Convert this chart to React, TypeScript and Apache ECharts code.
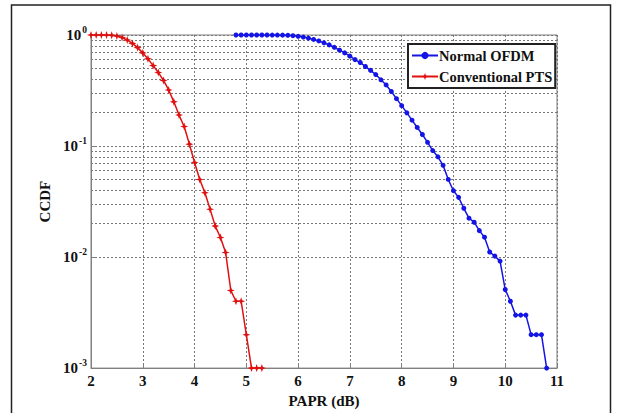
import React, { useEffect, useRef } from "react";
import * as echarts from "echarts";

const ofdmPapr = [
  4.8, 4.9, 5.0, 5.1, 5.2, 5.3, 5.4, 5.5, 5.6, 5.7,
  5.8, 5.9, 6.0, 6.1, 6.2, 6.3, 6.4, 6.5, 6.6, 6.7,
  6.8, 6.9, 7.0, 7.1, 7.2, 7.3, 7.4, 7.5, 7.6, 7.7,
  7.8, 7.9, 8.0, 8.1, 8.2, 8.3, 8.4, 8.5, 8.6, 8.7,
  8.8, 8.9, 9.0, 9.1, 9.2, 9.3, 9.4, 9.5, 9.6, 9.7,
  9.8, 9.9, 10.0, 10.1, 10.2, 10.3, 10.4, 10.5, 10.6, 10.7,
  10.8,
];
const ofdmCcdf = [
  1.0, 1.0, 1.0, 1.0, 1.0, 1.0, 1.0, 0.999, 0.998, 0.997,
  0.994, 0.986, 0.973, 0.958, 0.937, 0.912, 0.884, 0.85, 0.815, 0.775,
  0.73, 0.69, 0.645, 0.6, 0.565, 0.52, 0.48, 0.44, 0.395, 0.355,
  0.31, 0.267, 0.231, 0.199, 0.171, 0.147, 0.127, 0.108, 0.091, 0.08,
  0.067, 0.05, 0.0396, 0.0345, 0.0275, 0.0224, 0.0206, 0.0173, 0.0151, 0.0111,
  0.0102, 0.0092, 0.0051, 0.004, 0.003, 0.003, 0.003, 0.002, 0.002, 0.002,
  0.001,
];

const ptsPapr = [
  2.0, 2.1, 2.2, 2.3, 2.4, 2.5, 2.6, 2.7, 2.8, 2.9,
  3.0, 3.1, 3.2, 3.3, 3.4, 3.5, 3.6, 3.7, 3.8, 3.9,
  4.0, 4.1, 4.2, 4.3, 4.4, 4.5, 4.6, 4.7, 4.8, 4.9,
  5.0, 5.1, 5.2, 5.3,
];
const ptsCcdf = [
  1.0, 1.0, 1.0, 1.0, 0.995, 0.98, 0.95, 0.9, 0.84, 0.77,
  0.69, 0.61, 0.53, 0.46, 0.39, 0.32, 0.25, 0.19, 0.15, 0.104,
  0.071, 0.05, 0.038, 0.027, 0.019, 0.015, 0.011, 0.005, 0.004, 0.004,
  0.002, 0.001, 0.001, 0.001,
];

const minorGridValues = [
  0.002, 0.003, 0.004, 0.005, 0.006, 0.007, 0.008, 0.009,
  0.02, 0.03, 0.04, 0.05, 0.06, 0.07, 0.08, 0.09,
  0.2, 0.3, 0.4, 0.5, 0.6, 0.7, 0.8, 0.9,
];

const seriesNames = ["Normal OFDM", "Conventional PTS"];

const SERIF = "'Liberation Serif', 'Times New Roman', serif";
const GRID_COLOR = "#777";
const STAR =
  "path://M0,-5 L1.3,-1.3 L5,0 L1.3,1.3 L0,5 L-1.3,1.3 L-5,0 L-1.3,-1.3 Z";

export default function App() {
  const ref = useRef<HTMLDivElement>(null);

  useEffect(() => {
    if (!ref.current) return;
    const chart = echarts.init(ref.current, undefined, { renderer: "svg" });
    const gridLine = { show: true, lineStyle: { color: GRID_COLOR, type: [2, 2], width: 1 } };
    chart.setOption({
      animation: false,
      backgroundColor: "#fff",
      graphic: [
        {
          type: "rect",
          shape: { x: 11.5, y: 5, width: 599, height: 430 },
          style: { fill: "none", stroke: "#222", lineWidth: 1.5 },
          silent: true,
        },
      ],
      grid: {
        left: 91,
        right: 62,
        top: 35,
        bottom: 43,
        show: true,
        borderColor: "#808080",
        borderWidth: 1,
        backgroundColor: "transparent",
      },
      legend: {
        data: seriesNames,
        orient: "vertical",
        left: 408,
        top: 44,
        backgroundColor: "#fff",
        borderColor: "#222",
        borderWidth: 2,
        borderRadius: 0,
        padding: [4, 3, 4, 3],
        itemGap: 6,
        itemWidth: 26,
        itemHeight: 9,
        textStyle: { fontFamily: SERIF, fontWeight: "bold", fontSize: 14.5, color: "#111", padding: [0, 0, 0, -4] },
      },
      xAxis: {
        type: "value",
        min: 2,
        max: 11,
        interval: 1,
        name: "PAPR (dB)",
        nameLocation: "middle",
        nameGap: 20,
        nameTextStyle: { fontFamily: SERIF, fontWeight: "bold", fontSize: 15, color: "#111" },
        axisLine: { show: true, lineStyle: { color: "#808080", width: 1 } },
        axisTick: { show: true, inside: true, length: 4, lineStyle: { color: "#808080" } },
        axisLabel: { fontFamily: SERIF, fontWeight: "bold", fontSize: 15, color: "#111", margin: 5 },
        splitLine: gridLine,
      },
      yAxis: {
        type: "log",
        logBase: 10,
        min: 0.001,
        max: 1,
        splitNumber: 3,
        name: "CCDF",
        nameLocation: "middle",
        nameGap: 30,
        nameTextStyle: { fontFamily: SERIF, fontWeight: "bold", fontSize: 15, color: "#111" },
        axisLine: { show: true, lineStyle: { color: "#808080", width: 1 } },
        axisTick: { show: true, inside: true, length: 4, lineStyle: { color: "#808080" } },
        axisLabel: {
          margin: 4,
          formatter: (v: number) => `{b|10}{s|${Math.round(Math.log10(v))}}`,
          rich: {
            b: { fontFamily: SERIF, fontWeight: "bold", fontSize: 15, color: "#111" },
            s: { fontFamily: SERIF, fontWeight: "bold", fontSize: 9.5, color: "#111", verticalAlign: "top", padding: [0, 0, 11, 1] },
          },
        },
        splitLine: gridLine,
      },
      series: [
        {
          name: seriesNames[0],
          type: "line",
          data: ofdmPapr.map((x, i) => [x, ofdmCcdf[i]]),
          color: "#1414e6",
          symbol: "circle",
          symbolSize: 5,
          lineStyle: { width: 1.5, color: "#1414e6" },
          itemStyle: { color: "#1414e6" },
          z: 3,
        },
        {
          name: seriesNames[1],
          type: "line",
          data: ptsPapr.map((x, i) => [x, ptsCcdf[i]]),
          color: "#e01010",
          symbol: STAR,
          symbolSize: 8,
          lineStyle: { width: 1.5, color: "#e01010" },
          itemStyle: { color: "#e01010" },
          z: 3,
          markLine: {
            silent: true,
            symbol: "none",
            label: { show: false },
            lineStyle: { color: GRID_COLOR, type: [2, 2], width: 1 },
            data: minorGridValues.map((v) => ({ yAxis: v })),
            z: 1,
          },
        },
      ],
    });
    return () => chart.dispose();
  }, []);

  return (
    <div
      ref={ref}
      style={{ position: "fixed", left: 0, top: 0, width: 619, height: 413 }}
    />
  );
}
